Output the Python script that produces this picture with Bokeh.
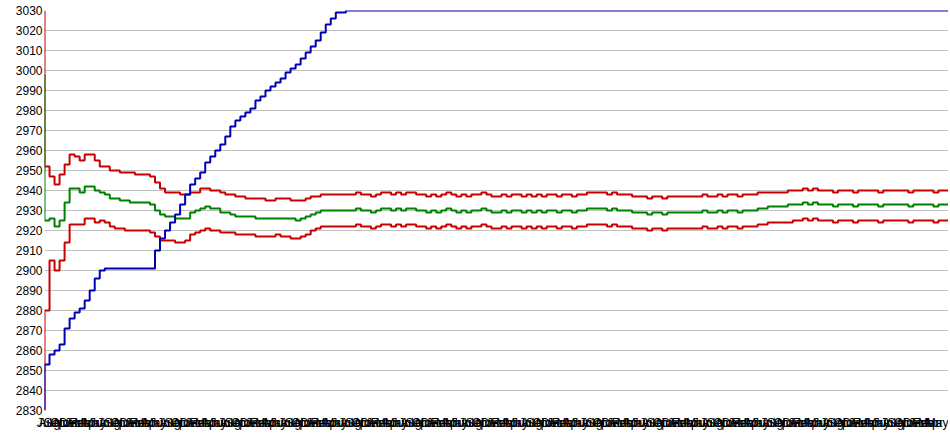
from bokeh.plotting import figure
from bokeh.models import Range1d, FixedTicker
from bokeh.embed import file_html
from bokeh.resources import INLINE

# ---- data ----
upper = [
    3030, 2952, 2947, 2943, 2948, 2953, 2958, 2957, 2955, 2958,
    2958, 2955, 2952, 2952, 2950, 2950, 2949, 2949, 2949, 2948,
    2948, 2948, 2947, 2944, 2941, 2939, 2939, 2939, 2938, 2938,
    2939, 2939, 2941, 2941, 2940, 2940, 2939, 2938, 2938, 2937,
    2937, 2936, 2936, 2936, 2936, 2935, 2935, 2936, 2936, 2936,
    2935, 2935, 2935, 2936, 2937, 2937, 2938, 2938, 2938, 2938,
    2938, 2938, 2938, 2939, 2938, 2938, 2937, 2938, 2939, 2939,
    2938, 2939, 2938, 2939, 2939, 2938, 2938, 2937, 2938, 2937,
    2938, 2939, 2938, 2937, 2938, 2937, 2938, 2938, 2939, 2938,
    2937, 2937, 2938, 2937, 2938, 2938, 2937, 2938, 2937, 2938,
    2937, 2938, 2938, 2937, 2938, 2938, 2937, 2938, 2938, 2939,
    2939, 2939, 2939, 2938, 2939, 2938, 2938, 2938, 2937, 2937,
    2937, 2936, 2937, 2937, 2936, 2937, 2937, 2937, 2937, 2937,
    2937, 2937, 2938, 2937, 2937, 2938, 2937, 2938, 2938, 2937,
    2938, 2938, 2938, 2939, 2939, 2939, 2939, 2939, 2939, 2940,
    2940, 2940, 2941, 2940, 2941, 2940, 2940, 2940, 2939, 2940,
    2940, 2940, 2939, 2940, 2940, 2940, 2940, 2939, 2940, 2940,
    2940, 2940, 2940, 2939, 2940, 2940, 2940, 2940, 2939, 2940, 2940,
]
middle = [
    2998, 2925, 2926, 2922, 2925, 2934, 2941, 2941, 2939, 2942,
    2942, 2940, 2939, 2938, 2936, 2936, 2935, 2935, 2934, 2934,
    2934, 2934, 2933, 2930, 2928, 2927, 2927, 2926, 2926, 2926,
    2929, 2930, 2931, 2932, 2931, 2931, 2929, 2929, 2928, 2927,
    2927, 2927, 2927, 2926, 2926, 2926, 2926, 2926, 2926, 2926,
    2926, 2925, 2926, 2927, 2928, 2929, 2930, 2930, 2930, 2930,
    2930, 2930, 2930, 2931, 2930, 2930, 2929, 2930, 2931, 2931,
    2930, 2931, 2930, 2931, 2931, 2930, 2930, 2929, 2930, 2929,
    2930, 2931, 2930, 2929, 2930, 2929, 2930, 2930, 2931, 2930,
    2929, 2929, 2930, 2929, 2930, 2930, 2929, 2930, 2929, 2930,
    2929, 2930, 2930, 2929, 2930, 2930, 2929, 2930, 2930, 2931,
    2931, 2931, 2931, 2930, 2931, 2930, 2930, 2930, 2929, 2929,
    2929, 2928, 2929, 2929, 2928, 2929, 2929, 2929, 2929, 2929,
    2929, 2929, 2930, 2929, 2929, 2930, 2929, 2930, 2930, 2929,
    2930, 2930, 2930, 2931, 2931, 2932, 2932, 2932, 2932, 2933,
    2933, 2933, 2934, 2933, 2934, 2933, 2933, 2933, 2932, 2933,
    2933, 2933, 2932, 2933, 2933, 2933, 2933, 2932, 2933, 2933,
    2933, 2933, 2933, 2932, 2933, 2933, 2933, 2933, 2932, 2933, 2933,
]
lower = [
    2830, 2880, 2905, 2900, 2905, 2914, 2923, 2923, 2923, 2926,
    2926, 2924, 2925, 2924, 2922, 2921, 2921, 2920, 2920, 2920,
    2920, 2920, 2919, 2917, 2915, 2915, 2915, 2914, 2914, 2915,
    2918, 2919, 2920, 2921, 2920, 2920, 2919, 2919, 2919, 2918,
    2918, 2918, 2918, 2917, 2917, 2917, 2917, 2918, 2917, 2917,
    2916, 2916, 2917, 2918, 2920, 2921, 2922, 2922, 2922, 2922,
    2922, 2922, 2922, 2923, 2922, 2922, 2921, 2922, 2923, 2923,
    2922, 2923, 2922, 2923, 2923, 2922, 2922, 2921, 2922, 2921,
    2922, 2923, 2922, 2921, 2922, 2921, 2922, 2922, 2923, 2922,
    2921, 2921, 2922, 2921, 2922, 2922, 2921, 2922, 2921, 2922,
    2921, 2922, 2922, 2921, 2922, 2922, 2921, 2922, 2922, 2923,
    2923, 2923, 2923, 2922, 2923, 2922, 2922, 2922, 2921, 2921,
    2921, 2920, 2921, 2921, 2920, 2921, 2921, 2921, 2921, 2921,
    2921, 2921, 2922, 2921, 2921, 2922, 2921, 2922, 2922, 2921,
    2922, 2922, 2922, 2923, 2923, 2924, 2924, 2924, 2924, 2924,
    2925, 2925, 2926, 2925, 2926, 2925, 2925, 2925, 2924, 2925,
    2925, 2925, 2924, 2925, 2925, 2925, 2925, 2924, 2925, 2925,
    2925, 2925, 2925, 2924, 2925, 2925, 2925, 2925, 2924, 2925, 2925,
]
running = [
    2830, 2853, 2858, 2860, 2863, 2871, 2876, 2879, 2881, 2885,
    2890, 2896, 2900, 2901, 2901, 2901, 2901, 2901, 2901, 2901,
    2901, 2901, 2901, 2910, 2916, 2920, 2924, 2928, 2933, 2938,
    2943, 2946, 2949, 2954, 2957, 2960, 2963, 2967, 2972, 2975,
    2977, 2979, 2981, 2985, 2987, 2990, 2992, 2994, 2996, 2999,
    3001, 3003, 3006, 3009, 3012, 3015, 3019, 3023, 3026, 3029,
    3029, 3030, 3030, 3030, 3030, 3030, 3030, 3030, 3030, 3030,
    3030, 3030, 3030, 3030, 3030, 3030, 3030, 3030, 3030, 3030,
    3030, 3030, 3030, 3030, 3030, 3030, 3030, 3030, 3030, 3030,
    3030, 3030, 3030, 3030, 3030, 3030, 3030, 3030, 3030, 3030,
    3030, 3030, 3030, 3030, 3030, 3030, 3030, 3030, 3030, 3030,
    3030, 3030, 3030, 3030, 3030, 3030, 3030, 3030, 3030, 3030,
    3030, 3030, 3030, 3030, 3030, 3030, 3030, 3030, 3030, 3030,
    3030, 3030, 3030, 3030, 3030, 3030, 3030, 3030, 3030, 3030,
    3030, 3030, 3030, 3030, 3030, 3030, 3030, 3030, 3030, 3030,
    3030, 3030, 3030, 3030, 3030, 3030, 3030, 3030, 3030, 3030,
    3030, 3030, 3030, 3030, 3030, 3030, 3030, 3030, 3030, 3030,
    3030, 3030, 3030, 3030, 3030, 3030, 3030, 3030, 3030, 3030, 3030,
]
y_ticks = [2830, 2840, 2850, 2860, 2870, 2880, 2890, 2900, 2910, 2920,
           2930, 2940, 2950, 2960, 2970, 2980, 2990, 3000, 3010, 3020, 3030]
month_names = ["Jul", "Aug", "Sep", "Oct", "Nov", "Dec",
               "Jan", "Feb", "Mar", "Apr", "May", "Jun"]

x = list(range(len(running)))
x_tick_pos = x[:-2]
x_labels = {i: month_names[i % 12] for i in x_tick_pos}

FONT = "Liberation Sans"

p = figure(width=948, height=432, output_backend="svg", toolbar_location=None,
           x_range=Range1d(0, len(x) - 1), y_range=Range1d(2830, 3030),
           min_border_left=44, min_border_right=0, min_border_top=10,
           min_border_bottom=20)
p.outline_line_color = None
p.background_fill_color = "white"
p.border_fill_color = "white"

p.xgrid.visible = False
p.ygrid.ticker = FixedTicker(ticks=y_ticks)
p.ygrid.grid_line_color = "#c0c0c0"
p.ygrid.grid_line_width = 1

p.yaxis.ticker = FixedTicker(ticks=y_ticks)
p.yaxis.axis_line_color = None
p.yaxis.major_tick_line_color = None
p.yaxis.minor_tick_line_color = None
p.yaxis.major_tick_out = 0
p.yaxis.major_tick_in = 0
p.yaxis.minor_tick_out = 0
p.yaxis.major_label_standoff = 2
p.yaxis.major_label_text_font = FONT
p.yaxis.major_label_text_font_size = "12px"
p.yaxis.major_label_text_color = "black"
p.yaxis.axis_label = " "
p.yaxis.axis_label_text_font_size = "4px"
p.yaxis.axis_label_standoff = 1

p.xaxis.ticker = FixedTicker(ticks=x_tick_pos)
p.xaxis.major_label_overrides = x_labels
p.xaxis.axis_line_color = None
p.xaxis.major_tick_line_color = None
p.xaxis.minor_tick_line_color = None
p.xaxis.major_tick_out = 0
p.xaxis.major_tick_in = 0
p.xaxis.minor_tick_out = 0
p.xaxis.major_label_standoff = 5
p.xaxis.major_label_text_font = FONT
p.xaxis.major_label_text_font_size = "12px"
p.xaxis.major_label_text_color = "black"

p.step(x, upper, mode="before", line_color="#c80000", line_width=2)
p.step(x, lower, mode="before", line_color="#c80000", line_width=2)
p.step(x, middle, mode="before", line_color="#008000", line_width=2)
p.step(x, running, mode="before", line_color="#0000b4", line_width=2)

open("out.html", "w").write(file_html(p, INLINE))
